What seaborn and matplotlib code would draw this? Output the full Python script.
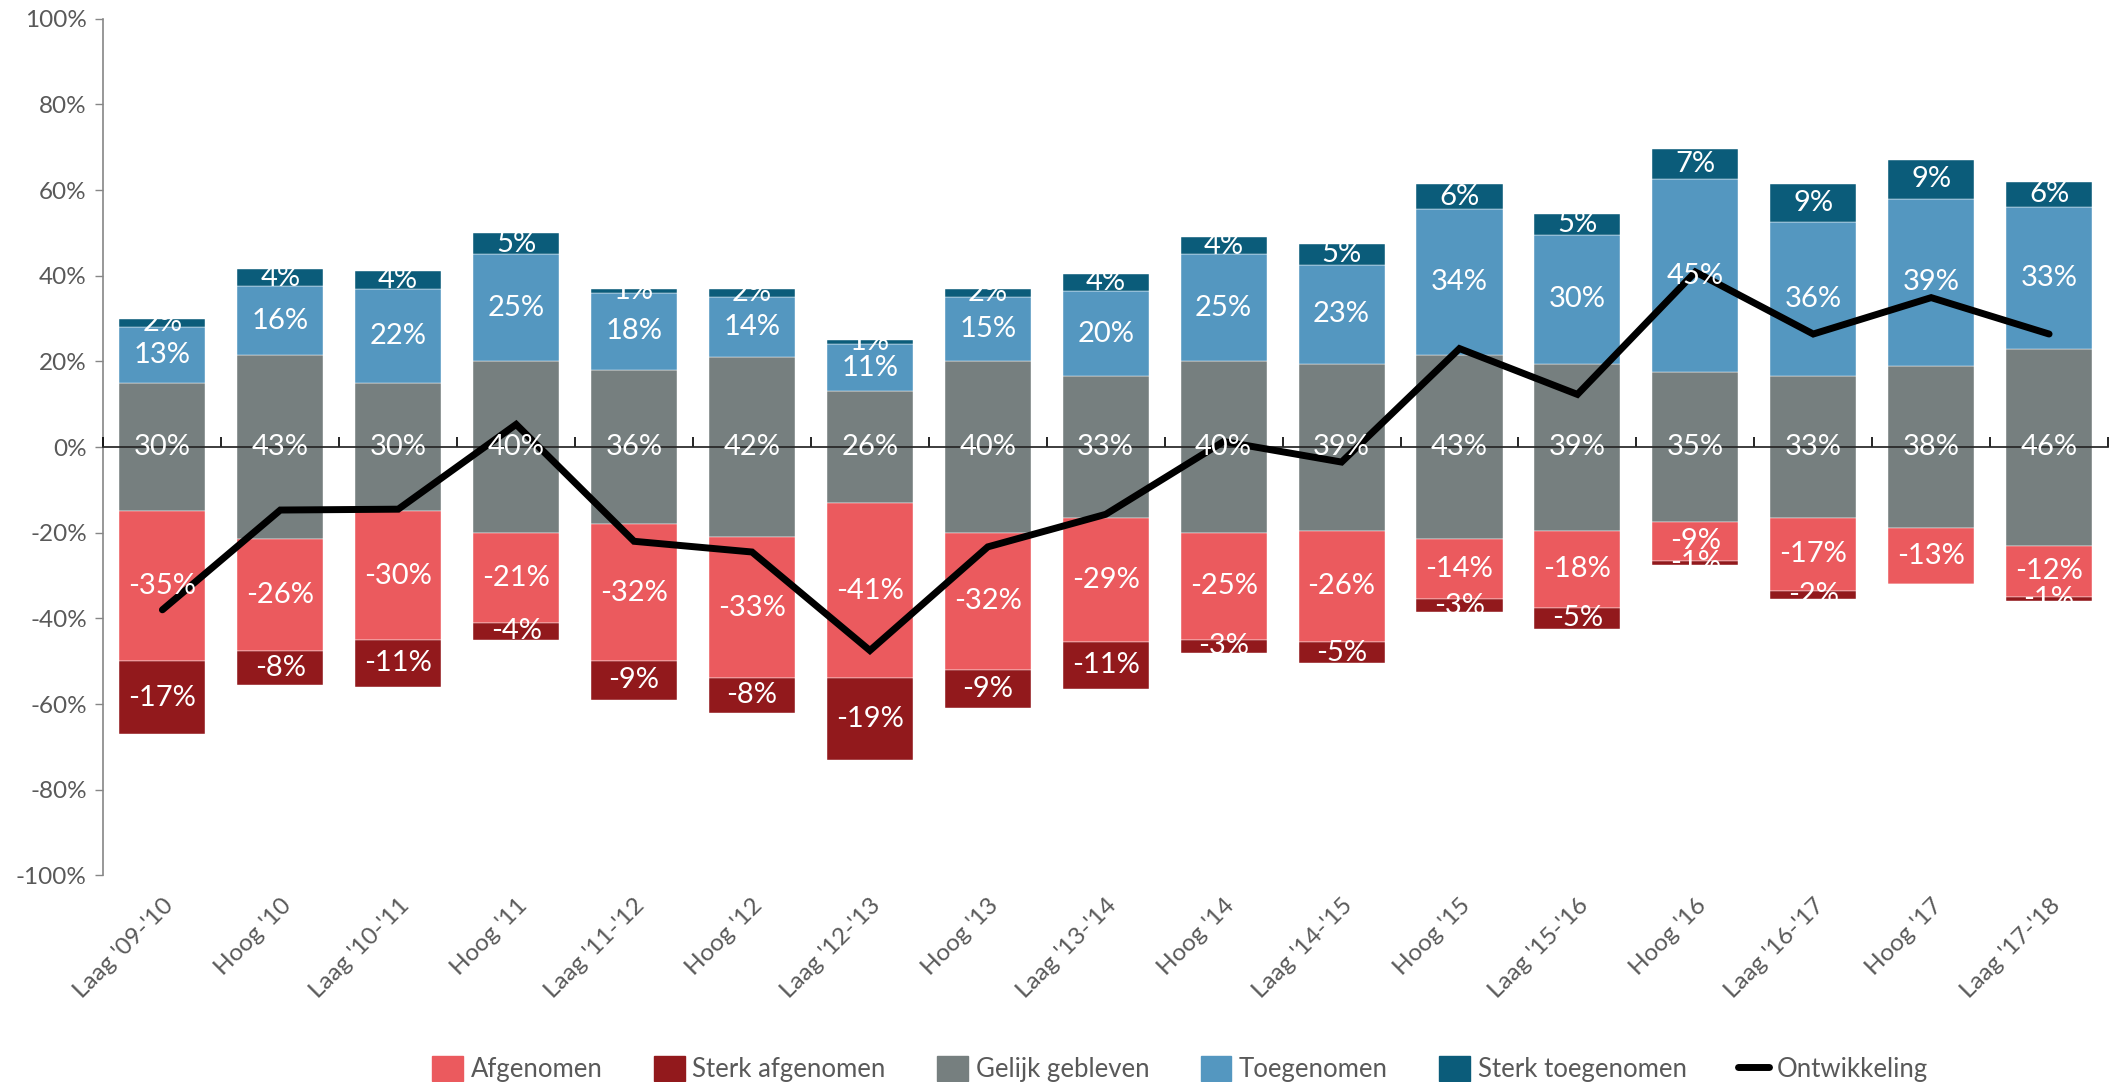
import matplotlib
matplotlib.use("Agg")
import matplotlib.pyplot as plt
from matplotlib import font_manager
from matplotlib.patches import Patch
from matplotlib.lines import Line2D
import seaborn as sns
import numpy as np
import pandas as pd

categories = ["Laag '09-'10", "Hoog '10", "Laag '10-'11", "Hoog '11", "Laag '11-'12",
              "Hoog '12", "Laag '12-'13", "Hoog '13", "Laag '13-'14", "Hoog '14",
              "Laag '14-'15", "Hoog '15", "Laag '15-'16", "Hoog '16", "Laag '16-'17",
              "Hoog '17", "Laag '17-'18"]
gelijk = [30, 43, 30, 40, 36, 42, 26, 40, 33, 40, 39, 43, 39, 35, 33, 38, 46]
toegenomen = [13, 16, 22, 25, 18, 14, 11, 15, 20, 25, 23, 34, 30, 45, 36, 39, 33]
sterk_toe = [2, 4, 4, 5, 1, 2, 1, 2, 4, 4, 5, 6, 5, 7, 9, 9, 6]
afgenomen = [35, 26, 30, 21, 32, 33, 41, 32, 29, 25, 26, 14, 18, 9, 17, 13, 12]
sterk_af = [17, 8, 11, 4, 9, 8, 19, 9, 11, 3, 5, 3, 5, 1, 2, 0, 1]
ontwikkeling = [-38, -14.7, -14.5, 5.3, -22, -24.5, -47.5, -23.3, -15.7, 1.3,
                -3.5, 23, 12.3, 40.9, 26.4, 34.9, 26.4]
yticks = [100, 80, 60, 40, 20, 0, -20, -40, -60, -80, -100]

c_af = "#EB5A5E"
c_saf = "#92191C"
c_gel = "#767F7F"
c_toe = "#5497C0"
c_stoe = "#0B5C7A"
tick_col = "#595959"

sns.set_theme(style="white")
names = {f.name for f in font_manager.fontManager.ttflist}
fam = [f for f in ["Liberation Sans Narrow", "Lato", "DejaVu Sans"] if f in names]
plt.rcParams["font.family"] = fam

df = pd.DataFrame({"cat": categories, "gel": gelijk, "toe": toegenomen, "stoe": sterk_toe,
                   "af": afgenomen, "saf": sterk_af, "ont": ontwikkeling})
x = np.arange(len(df))
half = df["gel"].values / 2.0

fig = plt.figure(figsize=(21.11, 10.82), dpi=100)
ax = fig.add_axes([0.049, 0.191, 0.9496, 0.7916])

w = 0.73
segs = []
ax.bar(x, df["gel"], width=w, bottom=-half, color=c_gel, edgecolor="white", linewidth=0.3)
segs.append((-half + df["gel"] / 2, df["gel"], df["gel"].map(lambda v: f"{v}%")))
b_toe = half
ax.bar(x, df["toe"], width=w, bottom=b_toe, color=c_toe, edgecolor="white", linewidth=0.3)
segs.append((b_toe + df["toe"] / 2, df["toe"], df["toe"].map(lambda v: f"{v}%")))
b_stoe = half + df["toe"].values
ax.bar(x, df["stoe"], width=w, bottom=b_stoe, color=c_stoe, edgecolor="white", linewidth=0.3)
segs.append((b_stoe + df["stoe"] / 2, df["stoe"], df["stoe"].map(lambda v: f"{v}%")))
b_af = -half
ax.bar(x, -df["af"], width=w, bottom=b_af, color=c_af, edgecolor="white", linewidth=0.3)
segs.append((b_af - df["af"] / 2, df["af"], df["af"].map(lambda v: f"-{v}%")))
b_saf = -half - df["af"].values
ax.bar(x, -df["saf"], width=w, bottom=b_saf, color=c_saf, edgecolor="white", linewidth=0.3)
segs.append((b_saf - df["saf"] / 2, df["saf"], df["saf"].map(lambda v: f"-{v}%")))

sns.lineplot(x=x, y=df["ont"].values, ax=ax, color="black", lw=5, zorder=5,
             solid_joinstyle="miter", solid_capstyle="round")

for ys, vals, labs in segs:
    for xi, yv, v, lab in zip(x, ys, vals, labs):
        if v > 0:
            ax.text(xi, yv, lab, ha="center", va="center", color="white",
                    fontsize=21, zorder=6)

ax.set_xlim(-0.5, len(df) - 0.5)
ax.set_ylim(-100, 100)
ax.set_yticks(yticks)
ax.set_yticklabels([f"{v}%" for v in yticks], color=tick_col, fontsize=17.5)
ax.set_xticks(x)
ax.set_xticklabels(categories, rotation=45, ha="right", rotation_mode="anchor",
                   color=tick_col, fontsize=17.5)
ax.tick_params(axis="x", length=0, pad=14)
ax.tick_params(axis="y", length=6, width=1, color="#868686", left=True, pad=6)
for s in ["top", "right", "bottom"]:
    ax.spines[s].set_visible(False)
ax.spines["left"].set_color("#868686")
ax.spines["left"].set_linewidth(1.2)

sec = ax.secondary_xaxis(0.5)
sec.set_xticks(np.arange(len(df) + 1) - 0.5)
sec.set_xticklabels([])
sec.tick_params(axis="x", direction="out", length=7, width=1.2, color="black")
sec.spines["bottom"].set_color("black")
sec.spines["bottom"].set_linewidth(1.8)
sec.set_zorder(4)

handles = [Patch(color=c_af, label="Afgenomen"), Patch(color=c_saf, label="Sterk afgenomen"),
           Patch(color=c_gel, label="Gelijk gebleven"), Patch(color=c_toe, label="Toegenomen"),
           Patch(color=c_stoe, label="Sterk toegenomen"),
           Line2D([0], [0], color="black", lw=5, label="Ontwikkeling")]
leg = fig.legend(handles=handles, loc="center", bbox_to_anchor=(0.559, 0.012), ncol=6,
                 frameon=False, fontsize=18.5, handlelength=1.2, handleheight=1.1,
                 handletextpad=0.3, columnspacing=2.0)
for t in leg.get_texts():
    t.set_color(tick_col)

fig.savefig("out.png", dpi=100)
